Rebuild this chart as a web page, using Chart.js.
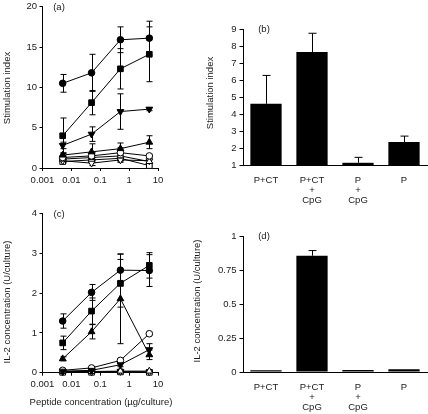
<!DOCTYPE html>
<html>
<head>
<meta charset="utf-8">
<script src="https://cdn.jsdelivr.net/npm/chart.js@4.4.1/dist/chart.umd.min.js"></script>
<style>
  body { margin: 0; background: #fff; }
  #wrap { position: relative; width: 428px; height: 414px; }
  #wrap canvas { position: absolute; left: 0; top: 0; }
</style>
</head>
<body>
<div id="wrap">
  <canvas id="chartA" width="428" height="414"></canvas>
  <canvas id="chartB" width="428" height="414"></canvas>
  <canvas id="chartC" width="428" height="414"></canvas>
  <canvas id="chartD" width="428" height="414"></canvas>
</div>
<script>
// ---- data ----
var concentrations = [0.005, 0.05, 0.5, 5];           // µg/culture
var logTicks = [0.001, 0.01, 0.1, 1, 10];
var siTicks = [0, 5, 10, 15, 20];
var il2Ticks = [0, 1, 2, 3, 4];
var siBarTicks = [1, 2, 3, 4, 5, 6, 7, 8, 9];
var il2BarTicks = [0, 0.25, 0.5, 0.75, 1];
var groups = [["P+CT"], ["P+CT", "+", "CpG"], ["P", "+", "CpG"], ["P"]];

// (a) stimulation index, one array per marker
var siFilledCircle = [10.5, 11.8, 15.9, 16.1];
var siFilledCircleErr = [1.1, 2.3, 1.6, 2.1];
var siFilledSquare = [4.0, 8.1, 12.3, 14.1];
var siFilledSquareErr = [2.2, 1.5, 2.5, 3.4];
var siFilledDown = [2.8, 4.2, 7.0, 7.3];
var siFilledDownErr = [0.4, 0.9, 2.2, 0.2];
var siFilledUp = [1.6, 2.0, 2.4, 3.2];
var siFilledUpErr = [0.3, 1.0, 0.7, 0.8];
var siOpenCircle = [1.3, 1.5, 1.9, 1.5];
var siOpenCircleErr = [0.2, 0.4, 0.6, 0.2];
var siOpenUp = [1.1, 1.3, 1.5, 0.8];
var siOpenUpErr = [0.2, 0.3, 0.4, 0.2];
var siOpenDown = [0.9, 0.6, 1.0, 0.9];
var siOpenDownErr = [0.2, 0.3, 0.3, 0.2];
var siOpenSquare = [0.8, 1.0, 1.2, 0.3];
var siOpenSquareErr = [0.2, 0.3, 0.3, 0.1];

// (b) stimulation index bars
var siBars = [4.6, 7.65, 1.13, 2.35];
var siBarsErr = [1.67, 1.1, 0.32, 0.35];

// (c) IL-2 concentration, one array per marker
var il2FilledCircle = [1.3, 2.02, 2.58, 2.57];
var il2FilledCircleErr = [0.18, 0.2, 0.4, 0.4];
var il2FilledSquare = [0.75, 1.55, 2.25, 2.7];
var il2FilledSquareErr = [0.17, 0.33, 0.6, 0.32];
var il2FilledDown = [0.04, 0.06, 0.2, 0.58];
var il2FilledDownErr = [0.02, 0.02, 0.05, 0.15];
var il2FilledUp = [0.35, 1.03, 1.86, 0.45];
var il2FilledUpErr = [0.05, 0.18, 1.13, 0.12];
var il2OpenCircle = [0.06, 0.12, 0.31, 0.98];
var il2OpenCircleErr = [0.02, 0.03, 0.04, 0.03];
var il2OpenUp = [0.03, 0.03, 0.04, 0.04];
var il2OpenUpErr = [0.01, 0.01, 0.01, 0.01];
var il2OpenDown = [0.02, 0.02, 0.03, 0.02];
var il2OpenDownErr = [0.01, 0.01, 0.01, 0.01];
var il2OpenSquare = [0.01, 0.01, 0.02, 0.01];
var il2OpenSquareErr = [0.01, 0.01, 0.01, 0.01];

// (d) IL-2 bars
var il2Bars = [0.013, 0.857, 0.015, 0.02];
var il2BarsErr = [0, 0.038, 0, 0];

// ---- look ----
var FONT = "'Liberation Sans', Arial, Helvetica, sans-serif";
var INK = "#1a1a1a";
Chart.defaults.font.family = FONT;
Chart.defaults.font.size = 9.5;
Chart.defaults.color = INK;

var filledCircle = { style: "circle", fill: "#000", r: 3.3, rot: 0 };
var filledSquare = { style: "rect", fill: "#000", r: 4.0, rot: 0 };
var filledDown = { style: "triangle", fill: "#000", r: 3.9, rot: 180 };
var filledUp = { style: "triangle", fill: "#000", r: 3.9, rot: 0 };
var openCircle = { style: "circle", fill: "#fff", r: 3.3, rot: 0 };
var openUp = { style: "triangle", fill: "#fff", r: 3.9, rot: 0 };
var openDown = { style: "triangle", fill: "#fff", r: 3.9, rot: 180 };
var openSquare = { style: "rect", fill: "#fff", r: 4.0, rot: 0 };

// error bars, drawn from the library's own scales
function drawErrors(chart, upOnly) {
    var ctx = chart.ctx;
    var yScale = chart.scales.y;
    var area = chart.chartArea;
    ctx.save();
    ctx.beginPath();
    ctx.rect(area.left - 6, area.top - 6, area.right - area.left + 12, area.bottom - area.top + 6);
    ctx.clip();
    ctx.strokeStyle = "#000";
    ctx.lineWidth = 1;
    chart.data.datasets.forEach(function (ds, i) {
        if (!ds.errors) return;
        var cap = upOnly ? 4 : 3;
        chart.getDatasetMeta(i).data.forEach(function (el, j) {
            var e = ds.errors[j];
            if (!e) return;
            var v = typeof ds.data[j] === "object" ? ds.data[j].y : ds.data[j];
            var top = yScale.getPixelForValue(v + e);
            var bottom = yScale.getPixelForValue(upOnly ? v : v - e);
            var x = Math.round(el.x) + 0.5;
            ctx.beginPath();
            ctx.moveTo(x, top);
            ctx.lineTo(x, bottom);
            ctx.moveTo(x - cap, top);
            ctx.lineTo(x + cap, top);
            if (!upOnly) {
                ctx.moveTo(x - cap, bottom);
                ctx.lineTo(x + cap, bottom);
            }
            ctx.stroke();
        });
    });
    ctx.restore();
}

Chart.register({
    id: "errorBars",
    beforeDatasetsDraw: function (chart) {
        if (chart.config.type === "line") drawErrors(chart, false);
    },
    afterDatasetsDraw: function (chart) {
        if (chart.config.type === "bar") drawErrors(chart, true);
    }
});

// panel letters and axis titles
Chart.register({
    id: "panelText",
    afterDraw: function (chart, args, opts) {
        var ctx = chart.ctx;
        (opts.items || []).forEach(function (t) {
            ctx.save();
            ctx.font = (t.size || 9.5) + "px " + FONT;
            ctx.fillStyle = INK;
            ctx.textAlign = "center";
            ctx.textBaseline = "middle";
            ctx.translate(t.x, t.y);
            if (t.rot) ctx.rotate(t.rot);
            ctx.fillText(t.text, 0, 0);
            ctx.restore();
        });
    }
});

// chart area box in page pixels -> layout padding
function place(box, yw, xh) {
    return {
        autoPadding: false,
        padding: { left: box[0] - yw, top: box[1], right: 428 - box[2], bottom: 414 - box[3] - xh }
    };
}
function fixY(w) {
    return function (s) { s.width = w; s.paddingTop = 0; s.paddingBottom = 0; };
}
function fixX(h) {
    return function (s) { s.height = h; s.paddingLeft = 0; s.paddingRight = 0; };
}
function tickList(list) {
    return function (s) { s.ticks = list.map(function (v) { return { value: v }; }); };
}

function lineSet(values, errors, m) {
    return {
        data: concentrations.map(function (c, i) { return { x: c, y: values[i] }; }),
        errors: errors,
        borderColor: "#000",
        borderWidth: 1,
        pointStyle: m.style,
        pointRadius: m.r,
        pointRotation: m.rot,
        pointBackgroundColor: m.fill,
        pointBorderColor: "#000",
        pointBorderWidth: 1,
        tension: 0,
        fill: false,
        clip: 8
    };
}

function doseChart(id, box, yMax, yTicks, sets, texts) {
    new Chart(document.getElementById(id).getContext("2d"), {
        type: "line",
        data: { datasets: sets },
        options: {
            responsive: false,
            animation: false,
            layout: place(box, 30, 25),
            scales: {
                x: {
                    type: "logarithmic",
                    min: 0.001,
                    max: 10,
                    afterBuildTicks: tickList(logTicks),
                    afterFit: fixX(25),
                    ticks: { padding: 3.3, maxRotation: 0, autoSkip: false,
                        callback: function (v) { return String(v); } },
                    grid: { drawOnChartArea: false, tickLength: 3, color: "#000" },
                    border: { color: "#000", width: 1 }
                },
                y: {
                    min: 0,
                    max: yMax,
                    afterBuildTicks: tickList(yTicks),
                    afterFit: fixY(30),
                    ticks: { padding: 2.5 },
                    grid: { drawOnChartArea: false, tickLength: 3, color: "#000" },
                    border: { color: "#000", width: 1 }
                }
            },
            plugins: {
                legend: { display: false },
                tooltip: { enabled: false },
                panelText: { items: texts }
            }
        }
    });
}

function barChart(id, box, yMin, yMax, yTicks, values, errors, fmt, texts) {
    new Chart(document.getElementById(id).getContext("2d"), {
        type: "bar",
        data: {
            labels: groups,
            datasets: [{
                data: values,
                errors: errors,
                backgroundColor: "#000",
                barPercentage: 0.68,
                categoryPercentage: 1
            }]
        },
        options: {
            responsive: false,
            animation: false,
            layout: place(box, 30, 40),
            scales: {
                x: {
                    afterFit: fixX(40),
                    ticks: { padding: 10.5, maxRotation: 0, autoSkip: false,
                        font: { lineHeight: 1.05 } },
                    grid: { drawOnChartArea: false, drawTicks: false },
                    border: { color: "#000", width: 1 }
                },
                y: {
                    min: yMin,
                    max: yMax,
                    afterBuildTicks: tickList(yTicks),
                    afterFit: fixY(30),
                    ticks: { padding: 3, callback: fmt },
                    grid: { drawOnChartArea: false, tickLength: 3.5, color: "#000" },
                    border: { color: "#000", width: 1 }
                }
            },
            plugins: {
                legend: { display: false },
                tooltip: { enabled: false },
                panelText: { items: texts }
            }
        }
    });
}

var UP = -Math.PI / 2;

doseChart("chartA", [42.5, 6.7, 158, 168], 20, siTicks, [
    lineSet(siFilledCircle, siFilledCircleErr, filledCircle),
    lineSet(siFilledSquare, siFilledSquareErr, filledSquare),
    lineSet(siFilledDown, siFilledDownErr, filledDown),
    lineSet(siFilledUp, siFilledUpErr, filledUp),
    lineSet(siOpenCircle, siOpenCircleErr, openCircle),
    lineSet(siOpenUp, siOpenUpErr, openUp),
    lineSet(siOpenDown, siOpenDownErr, openDown),
    lineSet(siOpenSquare, siOpenSquareErr, openSquare)
], [
    { text: "(a)", x: 59, y: 7.5 },
    { text: "Stimulation index", x: 7, y: 88, rot: UP }
]);

barChart("chartB", [243, 29, 427, 165], 1, 9, siBarTicks, siBars, siBarsErr,
    function (v) { return String(v); }, [
    { text: "(b)", x: 264, y: 29 },
    { text: "Stimulation index", x: 210.5, y: 93, rot: UP }
]);

doseChart("chartC", [42.5, 213.7, 158, 372.7], 4, il2Ticks, [
    lineSet(il2FilledCircle, il2FilledCircleErr, filledCircle),
    lineSet(il2FilledSquare, il2FilledSquareErr, filledSquare),
    lineSet(il2FilledDown, il2FilledDownErr, filledDown),
    lineSet(il2FilledUp, il2FilledUpErr, filledUp),
    lineSet(il2OpenCircle, il2OpenCircleErr, openCircle),
    lineSet(il2OpenUp, il2OpenUpErr, openUp),
    lineSet(il2OpenDown, il2OpenDownErr, openDown),
    lineSet(il2OpenSquare, il2OpenSquareErr, openSquare)
], [
    { text: "(c)", x: 59, y: 214 },
    { text: "IL-2 concentration (U/culture)", x: 7, y: 302, rot: UP },
    { text: "Peptide concentration (\u00b5g/culture)", x: 101, y: 402 }
]);

barChart("chartD", [243, 236.3, 427, 372], 0, 1, il2BarTicks, il2Bars, il2BarsErr,
    function (v) { return String(v); }, [
    { text: "(d)", x: 264, y: 236 },
    { text: "IL-2 concentration (U/culture)", x: 197, y: 301, rot: UP }
]);
</script>
</body>
</html>
